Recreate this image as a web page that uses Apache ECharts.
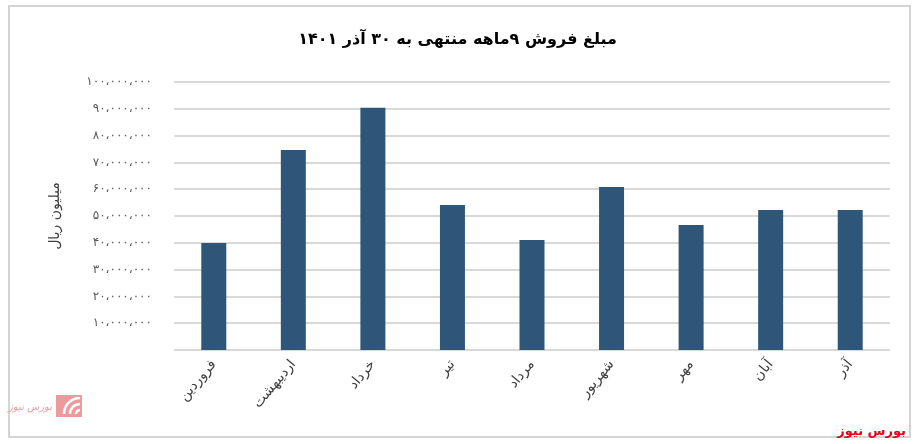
<!DOCTYPE html>
<html>
<head>
<meta charset="utf-8">
<style>
html,body{margin:0;padding:0;background:#fff;}
#chart{width:915px;height:444px;}
</style>
<script src="https://cdn.jsdelivr.net/npm/echarts@6/dist/echarts.min.js"></script>
</head>
<body>
<div id="chart"></div>
<script>
var titleText = 'مبلغ فروش ۹ماهه منتهی به ۳۰ آذر ۱۴۰۱';
var yAxisName = 'میلیون ریال';
var categories = ['فروردین', 'اردیبهشت', 'خرداد', 'تیر', 'مرداد', 'شهریور', 'مهر', 'آبان', 'آذر'];
var salesValues = [39900000, 74600000, 90400000, 54100000, 41000000, 60800000, 46600000, 52200000, 52200000];
var yTicks = [0, 10000000, 20000000, 30000000, 40000000, 50000000, 60000000, 70000000, 80000000, 90000000, 100000000];

var persianDigits = ['۰','۱','۲','۳','۴','۵','۶','۷','۸','۹'];
function toPersian(n) {
  var s = String(Math.round(n)).replace(/\B(?=(\d{3})+(?!\d))/g, '،');
  return s.replace(/[0-9]/g, function (d) { return persianDigits[+d]; });
}

var chart = echarts.init(document.getElementById('chart'));
var FONT = '"DejaVu Sans", sans-serif';
chart.setOption({
  backgroundColor: '#ffffff',
  animation: false,
  title: {
    text: titleText,
    left: 'center',
    top: 27,
    textStyle: { fontFamily: FONT, fontSize: 16, fontWeight: 'bold', color: '#000' }
  },
  grid: { left: 174, right: 25, top: 82, bottom: 94 },
  xAxis: {
    type: 'category',
    data: categories,
    axisLine: { show: false },
    axisTick: { show: false },
    axisLabel: { rotate: 50, margin: 12, fontFamily: FONT, fontSize: 14, color: '#404040', interval: 0 }
  },
  yAxis: {
    type: 'value',
    min: yTicks[0],
    max: yTicks[yTicks.length - 1],
    interval: yTicks[1] - yTicks[0],
    name: yAxisName,
    nameLocation: 'middle',
    nameRotate: 90,
    nameGap: 112,
    nameTextStyle: { fontFamily: FONT, fontSize: 14, color: '#404040' },
    axisLine: { show: false },
    axisTick: { show: false },
    splitLine: { lineStyle: { color: '#d9d9d9', width: 2 } },
    axisLabel: {
      margin: 22,
      fontFamily: FONT,
      fontSize: 12,
      color: '#595959',
      formatter: function (v) { return v === 0 ? '' : toPersian(v); }
    }
  },
  series: [{
    type: 'bar',
    data: salesValues,
    barWidth: 25,
    itemStyle: { color: '#2d5678' }
  }],
  graphic: [
    { type: 'rect', shape: { x: 9, y: 6, width: 901, height: 431 }, style: { fill: 'none', stroke: '#d4d4d4', lineWidth: 2 }, z: -1 },
    { type: 'rect', shape: { x: 56, y: 395, width: 26, height: 22 }, style: { fill: '#ec9a9e' } },
    { type: 'arc', shape: { cx: 80, cy: 414, r: 16, startAngle: Math.PI, endAngle: Math.PI * 1.5 }, style: { stroke: '#fff', lineWidth: 2.5, fill: 'none' } },
    { type: 'arc', shape: { cx: 80, cy: 414, r: 10, startAngle: Math.PI, endAngle: Math.PI * 1.5 }, style: { stroke: '#fff', lineWidth: 2.5, fill: 'none' } },
    { type: 'arc', shape: { cx: 80, cy: 414, r: 4, startAngle: Math.PI, endAngle: Math.PI * 1.5 }, style: { stroke: '#fff', lineWidth: 2.5, fill: 'none' } },
    { type: 'text', x: 52, y: 407, style: { text: 'بورس نیوز', fontFamily: FONT, fontSize: 10, fontStyle: 'italic', fill: '#ec9a9e', align: 'right', verticalAlign: 'middle' } },
    { type: 'text', x: 906, y: 432, style: { text: 'بورس نیوز', fontFamily: FONT, fontSize: 13, fontWeight: 'bold', fill: '#e8001c', align: 'right', verticalAlign: 'middle' } }
  ]
});
</script>
</body>
</html>
